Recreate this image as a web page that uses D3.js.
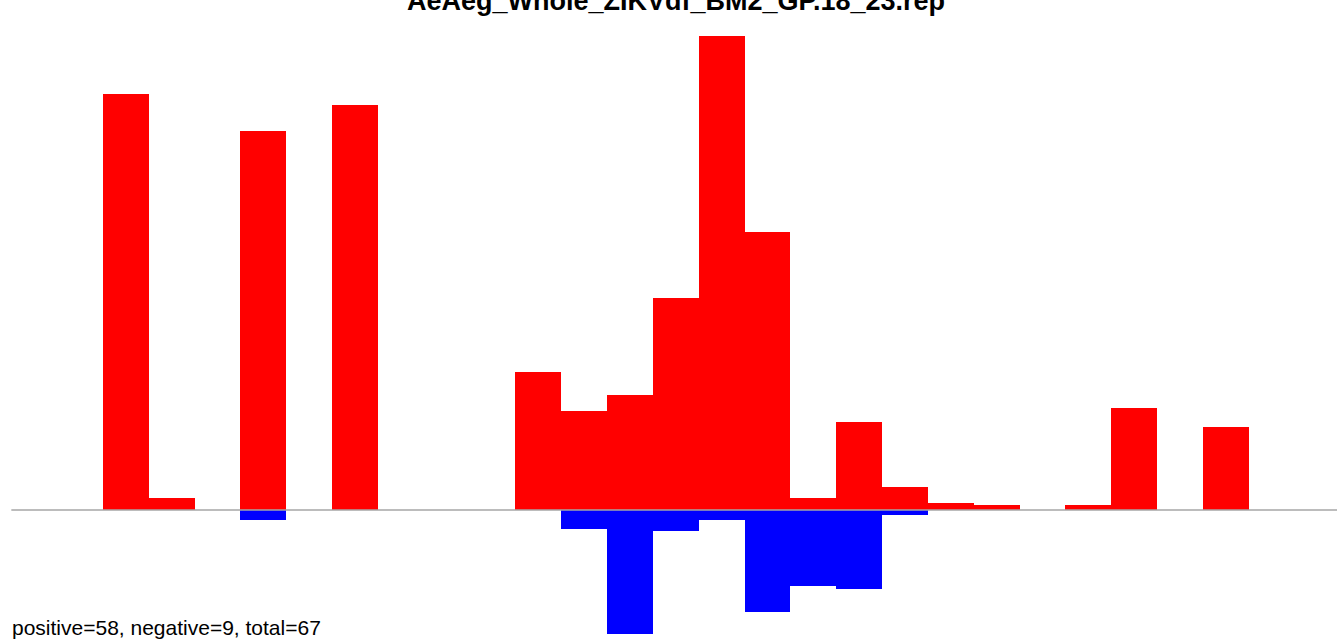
<!DOCTYPE html>
<html>
<head>
<meta charset="utf-8">
<script src="https://cdn.jsdelivr.net/npm/d3@7"></script>
<style>
  html, body { margin: 0; padding: 0; background: #fff; }
  svg { display: block; }
</style>
</head>
<body>
<svg id="chart" width="1337" height="640"></svg>
<script>
// ---- data ----
const titleText = "AeAeg_Whole_ZIKVdf_BM2_GP.18_23.rep";
const footerText = "positive=58, negative=9, total=67";
const bins = d3.range(1, 30).map(String); // 29 bins
const positiveValues = [0,0,416,12,0,379,0,405,0,0,0,138,99,115,212,474,278,12,88,23,7,5,0,5,102,0,83,0,0];
const negativeValues = [0,0,0,0,0,10,0,0,0,0,0,0,19,124,21,10,102,76,79,5,0,0,0,0,0,0,0,0,0];

// ---- layout ----
const svg = d3.select("#chart");
const x0 = 11.33, bw = 45.83;
const x = d3.scaleBand().domain(bins).range([x0, x0 + bw * bins.length]).paddingInner(0).paddingOuter(0);
const y = d3.scaleLinear().domain([-474, 474]).range([984, 36]); // 0 -> 510

svg.append("g").selectAll("rect")
  .data(bins.map((b, i) => ({ b, v: positiveValues[i] })).filter(d => d.v > 0))
  .join("rect")
  .attr("x", d => x(d.b))
  .attr("width", x.bandwidth())
  .attr("y", d => y(d.v))
  .attr("height", d => y(0) - y(d.v))
  .attr("fill", "#ff0000")
  .attr("shape-rendering", "crispEdges");

svg.append("g").selectAll("rect")
  .data(bins.map((b, i) => ({ b, v: negativeValues[i] })).filter(d => d.v > 0))
  .join("rect")
  .attr("x", d => x(d.b))
  .attr("width", x.bandwidth())
  .attr("y", y(0))
  .attr("height", d => y(-d.v) - y(0))
  .attr("fill", "#0000ff")
  .attr("shape-rendering", "crispEdges");

// baseline
svg.append("line")
  .attr("x1", x0).attr("x2", 1337)
  .attr("y1", y(0)).attr("y2", y(0))
  .attr("stroke", "#a6a6a6").attr("stroke-width", 1.4);

svg.append("text")
  .attr("x", 676).attr("y", 10)
  .attr("text-anchor", "middle")
  .attr("font-family", "Liberation Sans, Arial, sans-serif")
  .attr("font-weight", "bold")
  .attr("font-size", 27)
  .attr("fill", "#000")
  .text(titleText);

svg.append("text")
  .attr("x", 12).attr("y", 635)
  .attr("font-family", "Liberation Sans, Arial, sans-serif")
  .attr("font-size", 21)
  .attr("fill", "#000")
  .text(footerText);
</script>
</body>
</html>
